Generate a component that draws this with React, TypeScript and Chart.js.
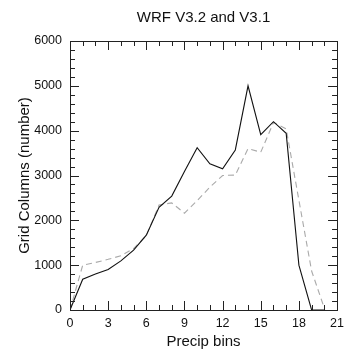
import React, { useEffect, useRef } from "react";
import { Chart, registerables } from "chart.js";

Chart.register(...registerables);

const titleText = "WRF V3.2 and V3.1";
const xTitle = "Precip bins";
const yTitle = "Grid Columns (number)";
const bins = [0, 1, 2, 3, 4, 5, 6, 7, 8, 9, 10, 11, 12, 13, 14, 15, 16, 17, 18, 19, 20];
const v32 = [0, 685, 805, 905, 1095, 1335, 1670, 2290, 2540, 3090, 3620, 3260, 3150, 3570, 5000, 3910, 4200, 3940, 1000, 0, 0];
const v31 = [0, 1000, 1060, 1130, 1210, 1370, 1660, 2340, 2390, 2160, 2440, 2740, 3000, 3010, 3600, 3520, 4180, 4040, 2450, 870, 40];
const xMin = 0, xMax = 21, xMajor = 3, xMinor = 1;
const yMin = 0, yMax = 6000, yMajor = 1000, yMinor = 200;

const FONT = "'Liberation Sans', Arial, Helvetica, sans-serif";

const frameTicks = {
  id: "frameTicks",
  afterDraw(chart: any) {
    const { ctx, chartArea: a, scales } = chart;
    const xs = scales.x, ys = scales.y;
    ctx.save();
    ctx.strokeStyle = "#222";
    ctx.lineWidth = 1;
    ctx.beginPath();
    for (let v = xMin; v <= xMax + 1e-9; v += xMinor) {
      const px = Math.round(xs.getPixelForValue(v)) + 0.5;
      const len = Math.abs(v % xMajor) < 1e-9 ? 9 : 5;
      ctx.moveTo(px, a.bottom);
      ctx.lineTo(px, a.bottom - len);
      ctx.moveTo(px, a.top);
      ctx.lineTo(px, a.top + len);
    }
    for (let v = yMin; v <= yMax + 1e-9; v += yMinor) {
      const py = Math.round(ys.getPixelForValue(v)) + 0.5;
      const len = Math.abs(v % yMajor) < 1e-9 ? 9 : 5;
      ctx.moveTo(a.left, py);
      ctx.lineTo(a.left + len, py);
      ctx.moveTo(a.right, py);
      ctx.lineTo(a.right - len, py);
    }
    ctx.stroke();
    ctx.strokeRect(Math.round(a.left) + 0.5, Math.round(a.top) + 0.5, Math.round(a.right - a.left), Math.round(a.bottom - a.top));
    ctx.restore();
  },
};

export default function App() {
  const ref = useRef<HTMLCanvasElement>(null);
  useEffect(() => {
    const chart = new Chart(ref.current as HTMLCanvasElement, {
      type: "line",
      data: {
        datasets: [
          {
            label: "V3.2",
            data: bins.map((b, i) => ({ x: b, y: v32[i] })),
            borderColor: "#111",
            borderWidth: 1.1,
            pointRadius: 0,
            tension: 0,
          },
          {
            label: "V3.1",
            data: bins.map((b, i) => ({ x: b, y: v31[i] })),
            borderColor: "#aaa",
            borderWidth: 1.1,
            borderDash: [6, 4],
            pointRadius: 0,
            tension: 0,
          },
        ],
      },
      options: {
        animation: false,
        responsive: false,
        layout: { padding: { left: 0, right: 0, top: 0, bottom: 0 } },
        plugins: {
          legend: { display: false },
          tooltip: { enabled: false },
          title: {
            display: true,
            fullSize: false,
            text: titleText,
            color: "#111",
            font: { family: FONT, size: 15, weight: "normal" },
            padding: { top: 9, bottom: 14 },
          },
        },
        scales: {
          x: {
            type: "linear",
            min: xMin,
            max: xMax,
            border: { display: false },
            grid: { display: false, drawTicks: false, tickLength: 0 },
            ticks: {
              stepSize: xMajor,
              color: "#111",
              padding: 6,
              maxRotation: 0,
              font: { family: FONT, size: 12.5 },
              callback: (v: any) => String(v),
            },
            title: {
              display: true,
              text: xTitle,
              color: "#111",
              font: { family: FONT, size: 15 },
              padding: { top: 0, bottom: 7 },
            },
            afterFit(scale: any) {
              scale.height = 48;
            },
          },
          y: {
            type: "linear",
            min: yMin,
            max: yMax,
            border: { display: false },
            grid: { display: false, drawTicks: false, tickLength: 0 },
            ticks: {
              stepSize: yMajor,
              color: "#111",
              padding: 8,
              font: { family: FONT, size: 12.5 },
              callback: (v: any) => String(v),
            },
            title: {
              display: true,
              text: yTitle,
              color: "#111",
              font: { family: FONT, size: 15 },
              padding: { top: 16, bottom: 0 },
            },
            afterFit(scale: any) {
              scale.width = 70;
            },
          },
        },
      },
      plugins: [frameTicks],
    });
    return () => chart.destroy();
  }, []);
  return (
    <div style={{ position: "fixed", left: 0, top: 0, width: 350, height: 358, background: "#fff" }}>
      <canvas ref={ref} width={350} height={358} style={{ width: 350, height: 358, display: "block" }} />
    </div>
  );
}
